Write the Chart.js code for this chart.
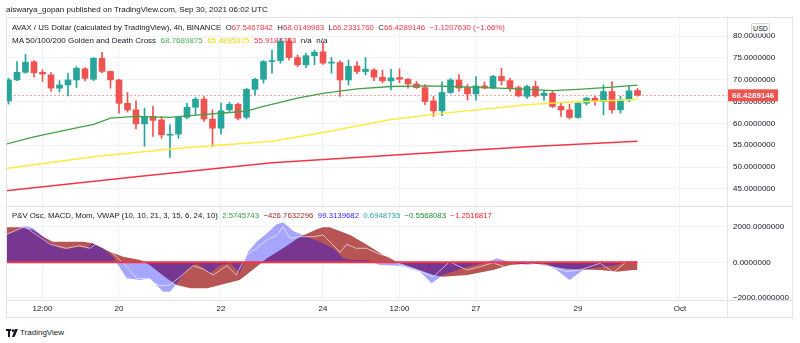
<!DOCTYPE html>
<html>
<head>
<meta charset="utf-8">
<script src="https://cdn.jsdelivr.net/npm/chart.js@4.4.0/dist/chart.umd.min.js"></script>
<style>
  body { margin:0; background:#fff; width:800px; height:343px; overflow:hidden; position:relative;
         font-family:"Liberation Sans", Arial, sans-serif; color:#131722; }
  .t { position:absolute; white-space:nowrap; font-size:8px; line-height:10px; }
  .ln { position:absolute; background:#e0e3eb; }
  canvas { position:absolute; }
  .red { color:#f23645; } .grn { color:#4caf50; } .yel { color:#f5d800; }
</style>
</head>
<body>
<canvas id="main" width="787" height="190" style="left:6px;top:17px"></canvas>
<canvas id="osc" width="787" height="111" style="left:6px;top:207px"></canvas>

<div class="ln" style="left:6px;top:17px;width:787px;height:1px"></div>
<div class="ln" style="left:6px;top:317px;width:787px;height:1px"></div>
<div class="ln" style="left:6px;top:17px;width:1px;height:301px"></div>
<div class="ln" style="left:792px;top:17px;width:1px;height:301px"></div>
<div class="ln" style="left:727px;top:17px;width:1px;height:301px"></div>
<div class="ln" style="left:6px;top:206px;width:787px;height:1px"></div>
<div class="ln" style="left:6px;top:300px;width:787px;height:1px"></div>

<div class="t" style="left:6px;top:5px;font-size:8px">aiswarya_gopan published on TradingView.com, Sep 30, 2021 06:02 UTC</div>
<div class="t" style="left:12px;top:23px;font-size:7.8px">AVAX / US Dollar (calculated by TradingView), 4h, BINANCE&nbsp; O<span class="red">67.5467842</span>&nbsp; H<span class="red">68.0149983</span>&nbsp; L<span class="red">66.2331760</span>&nbsp; C<span class="red">66.4289146</span>&nbsp; <span class="red">−1.1207630 (−1.66%)</span></div>
<div class="t" style="left:12px;top:36px">MA 50/100/200 Golden and Death Cross&nbsp; <span class="grn">68.7689875</span>&nbsp; <span class="yel">65.4895375</span>&nbsp; <span class="red">55.9187783</span>&nbsp; n/a&nbsp; n/a</div>
<div class="t" style="left:12px;top:211px;font-size:7.8px">P&amp;V Osc, MACD, Mom, VWAP (10, 10, 21, 3, 15, 6, 24, 10)&nbsp; <span style="color:#2e9b3a">2.5745743</span>&nbsp; <span style="color:#a52a2a">−426.7632296</span>&nbsp; <span style="color:#2b2bff">99.3139682</span>&nbsp; <span style="color:#26a69a">0.6948735</span>&nbsp; <span style="color:#1f8f2e">−0.5568083</span>&nbsp; <span style="color:#ff2020">−1.2516817</span></div>
<div class="t" style="left:751px;top:23px;width:17px;height:9px;border:1px solid #d1d4dc;border-radius:2px;background:#fff;font-size:7px;line-height:9px;text-align:center">USD</div>

<svg style="position:absolute;left:6px;top:329px" width="13" height="8" viewBox="0 0 13 8">
  <rect x="0" y="0" width="5" height="2" fill="#131722"/>
  <rect x="2" y="0" width="2" height="8" fill="#131722"/>
  <circle cx="7" cy="1.6" r="1.4" fill="#131722"/>
  <polygon points="9,0 12,0 8.5,8 6,8" fill="#131722"/>
</svg>
<div class="t" style="left:20px;top:328px;font-size:8px">TradingView</div>

<script>
// candles, 4h, index 0 = Sep 17 20:00
var opens  = [65.16,69.95,71.7,74.1,71.7,71.1,68.06,68.8,69.95,72.5,70.1,74.9,71.9,69.95,64.6,63.1,59.9,61.6,60.8,57.3,
              57.56,61.4,63.7,65.55,61.0,58.9,63.1,64.4,61.4,67.8,70.1,74.16,74.4,78.86,75.07,73.4,75.5,76.4,73.8,73.93,
              69.95,73.15,71.87,72.24,70.57,69.73,70.5,70.1,69.04,68.2,65.16,62.88,67.08,69.95,68.2,66.76,68.58,68.1,70.75,69.8,
              68.2,66.2,68.45,66.39,66.92,63.88,63.1,61.37,64.63,65.78,65.0,67.3,63.1,65.4,67.5467842];
var highs  = [70.34,74.16,75.82,74.38,72.24,71.64,69.8,71.5,73.0,72.8,75.07,76.28,72.0,70.1,67.08,65.16,63.5,63.9,61.6,59.7,
              61.6,64.6,65.94,66.16,63.1,64.63,64.86,64.63,68.06,70.34,74.38,76.8,79.47,79.47,75.66,76.05,76.8,78.6,75.07,74.3,
              74.5,74.16,75.07,72.55,72.17,72.4,72.5,70.34,69.6,68.9,66.16,69.5,70.27,71.2,68.9,70.7,69.5,71.0,72.6,70.3,
              68.6,68.8,69.7,67.5,67.3,64.63,64.4,64.86,66.0,66.2,68.8,69.6,66.2,68.67,68.0149983];
var lows   = [64.4,69.8,71.48,70.57,69.6,67.3,67.15,66.3,68.2,69.7,69.8,71.64,68.06,62.35,62.6,58.77,54.75,57.0,56.6,52.2,
              56.6,61.05,61.96,60.46,54.75,57.56,62.74,60.8,61.05,66.53,69.2,71.5,73.77,74.52,73.0,72.78,73.4,73.5,71.5,66.2,
              68.8,71.4,71.1,69.8,69.27,67.65,69.3,68.06,68.0,64.3,61.6,61.8,66.85,67.3,65.35,65.35,67.9,68.0,68.8,67.3,
              66.1,65.7,66.0,65.3,63.6,61.6,61.0,61.2,64.2,64.2,61.96,62.35,62.35,65.0,66.2331760];
var closes = [69.95,71.7,74.0,71.6,71.3,68.1,68.8,69.95,72.6,70.3,74.9,71.9,69.95,64.6,63.1,59.9,61.6,60.7,57.4,57.55,
              61.4,63.7,65.55,61.0,58.9,62.9,64.4,61.2,67.8,70.1,74.16,74.38,78.86,75.07,73.4,75.5,76.3,73.8,73.95,69.95,
              73.05,71.87,72.4,70.57,69.73,70.41,70.1,69.04,68.2,65.0,62.88,67.08,69.95,68.1,66.76,68.58,68.1,70.75,69.8,68.2,
              66.3,68.45,66.3,66.92,63.88,63.1,61.37,64.63,65.78,65.0,67.3,63.1,65.4,67.45,66.4289146];

// moving averages read at [candle index, value]
var ma50  = [[-0.3,55.25],[3,56.9],[7,58.6],[10,59.8],[12,61.2],[15,61.6],[19,61.4],[22,61.9],[26,62.5],[28,62.8],
             [30,63.9],[34,65.8],[37,66.9],[41,67.9],[45,68.45],[49,68.6],[52,68.45],[56,68.2],[60,67.9],[64,67.5],
             [67,67.8],[71,68.3],[74,68.77]];
var ma100 = [[-0.3,49.7],[10,52.4],[20,54.3],[31,55.95],[37,57.9],[45,60.9],[51,62.3],[61,64.3],[65,64.8],[74,65.49]];
var ma200 = [[-0.3,44.6],[15,47.8],[31,51.0],[61,54.66],[74,55.92]];

// lower pane
var macdArea = [[-0.3,1966],[1.4,1966],[2.9,1815],[4.1,1438],[5.2,1157],[6.9,1157],[8.8,1157],[9.9,1067],[11.9,596],
                [13.5,315],[15.5,129],[16.6,-152],[18.6,-899],[19.8,-1275],[21.4,-1461],[23.4,-1461],[25.7,-1180],
                [27.2,-994],[29.2,-247],[30.4,225],[32.3,787],[34.3,1438],[36.3,1854],[37,1966],[37.8,1966],[40.2,1534],
                [42.2,972],[44.1,410],[46.1,-56],[50,-713],[51.1,-809],[54,-713],[57,-433],[59,-152],[61.7,-60],
                [65.7,-376],[69.6,-433],[71.6,-528],[73.5,-433],[74,-433]];
var momArea  = [[-0.3,1534],[1.9,2056],[2.9,1910],[4.9,1067],[6.1,787],[6.9,747],[8.1,876],[9.2,787],[9.9,1067],
                [11.1,787],[12.3,315],[12.9,-152],[13.9,-899],[15.5,-994],[16.6,-899],[18.2,-1652],[19,-1652],
                [19.8,-1180],[21,-433],[22.2,-56],[23.7,-620],[24.9,-152],[26.1,-56],[27.2,-620],[28.2,596],[29.2,1157],
                [30.4,1629],[31.6,2152],[32.3,2247],[33.5,1759],[35.1,1438],[36.6,1157],[38.2,787],[39.4,225],[40.5,129],
                [42.2,129],[43.7,-152],[46.1,-190],[48.4,-528],[49.8,-1180],[51.1,-713],[54,-247],[55.8,-56],[57.5,225],
                [59,0],[61,-152],[62.9,-56],[64.5,-433],[66,-994],[67.6,-433],[69.6,-247],[71.1,-208],[73.1,94],[74,56]];
var thinLine = [[-0.2,1573],[1.9,2000],[4.9,1011],[6.8,787],[8.4,933],[9.6,787],[10.4,1067],[11.6,787],[12.7,315],
                [13.9,-247],[15.1,-899],[16.3,-938],[17.8,-1315],[19,-1275],[20.2,-809],[21.7,-190],[22.9,-376],
                [24.1,-713],[25.7,-190],[26.8,-713],[28,410],[29.2,787],[30.4,1253],[31.6,1534],[32.3,2000],[33.1,1348],
                [34.3,1438],[35.9,1438],[37,1534],[38.2,972],[39,562],[39.8,1011],[40.9,787],[42.1,787],[43.7,449],
                [44.9,315],[46.1,-152],[48,-433],[50,-809],[51.9,34],[53.9,-433],[55.5,-247],[57,-22],[58.6,-303],
                [61,-152],[63.3,-152],[65.7,-528],[67.2,-433],[69.6,-56],[71.2,-562],[72.7,34],[74,-22]];
var zeroLine = [[-0.3,0],[74,0]];

var priceTicks = [45,50,55,60,65,70,75,80];
var oscTicks = [-2000,0,2000];
var timeTickIdx = [4,13,25,37,46,55,67,79];
var timeTickLabels = ['12:00','20','22','24','12:00','27','29','Oct'];

var xMin = -0.294, xMax = 84.53;
var UP = '#26a69a', DOWN = '#ef5350';
var FONT = 'Liberation Sans';

var toXY = function(arr){ return arr.map(function(p){ return {x:p[0], y:p[1]}; }); };
var colors = closes.map(function(c,i){ return c >= opens[i] ? UP : DOWN; });
var bodies = closes.map(function(c,i){ return {x:i, y:[opens[i], c]}; });
var wicks  = closes.map(function(c,i){ return {x:i, y:[lows[i], highs[i]]}; });

var fixX = function(s){ s.ticks = timeTickIdx.map(function(v){ return {value:v}; }); };

//-------------------------------------------------------------
// last price line + label
//-------------------------------------------------------------
var lastPrice = {
  id:'lastPrice',
  beforeDatasetsDraw: function(chart){
    var c = chart.ctx, a = chart.chartArea;
    var y = Math.round(chart.scales.y.getPixelForValue(closes[closes.length-1])) + 0.5;
    c.save();
    c.strokeStyle = 'rgba(239,83,80,0.55)';
    c.setLineDash([2,2]);
    c.lineWidth = 1;
    c.beginPath(); c.moveTo(a.left, y); c.lineTo(a.right, y); c.stroke();
    c.restore();
  },
  afterDraw: function(chart){
    var c = chart.ctx, a = chart.chartArea;
    var last = closes[closes.length-1];
    var y = chart.scales.y.getPixelForValue(last);
    c.save();
    c.fillStyle = DOWN;
    c.fillRect(a.right, y-6, 51, 12);
    c.fillStyle = '#fff';
    c.font = 'bold 8px "' + FONT + '"';
    c.textBaseline = 'middle';
    c.fillText(last.toFixed(7), a.right + 5, y + 0.5);
    c.restore();
  }
};

new Chart(document.getElementById('main').getContext('2d'), {
  type: 'bar',
  data: {
    datasets: [
      { type:'line', data: toXY(ma50),  borderColor:'#43a047', borderWidth:1.3, pointRadius:0, order:1 },
      { type:'line', data: toXY(ma100), borderColor:'#ffeb3b', borderWidth:1.5, pointRadius:0, order:1 },
      { type:'line', data: toXY(ma200), borderColor:'#f23645', borderWidth:1.3, pointRadius:0, order:1 },
      { data: bodies, backgroundColor: colors, barThickness:6, grouped:false, minBarLength:1, order:2 },
      { data: wicks,  backgroundColor: colors, barThickness:1, grouped:false, order:3 }
    ]
  },
  options: {
    responsive:false, animation:false, events:[],
    layout:{ padding:0 },
    plugins:{ legend:{display:false}, tooltip:{enabled:false} },
    scales:{
      x:{ type:'linear', min:xMin, max:xMax, offset:false, afterBuildTicks: fixX,
          ticks:{display:false}, grid:{color:'#f0f3fa', drawTicks:false, offset:false}, border:{display:false},
          afterFit: function(s){ s.height = 0; s.paddingLeft = 0; s.paddingRight = 0; } },
      y:{ position:'right', min:40.88, max:84.35,
          afterBuildTicks: function(s){ s.ticks = priceTicks.map(function(v){ return {value:v}; }); },
          ticks:{ callback:function(v){ return v.toFixed(7); }, color:'#131722', padding:6, font:{size:8, family:FONT} },
          grid:{color:'#f0f3fa', drawTicks:false}, border:{display:false},
          afterFit: function(s){ s.width = 66; s.paddingTop = 0; s.paddingBottom = 0; } }
    }
  },
  plugins:[lastPrice]
});

//-------------------------------------------------------------
// oscillator pane
//-------------------------------------------------------------
new Chart(document.getElementById('osc').getContext('2d'), {
  type: 'line',
  data: {
    datasets: [
      { data: toXY(zeroLine), borderColor:'#f23645', borderWidth:2, pointRadius:0, order:0 },
      { data: toXY(thinLine), borderColor:'rgba(255,255,255,0.6)', borderWidth:1, pointRadius:0, order:1 },
      { data: toXY(momArea),  borderWidth:0, pointRadius:0, fill:'origin', backgroundColor:'rgba(0,0,255,0.35)', order:2 },
      { data: toXY(macdArea), borderWidth:0, pointRadius:0, fill:'origin', backgroundColor:'rgba(165,42,42,0.8)', order:3 }
    ]
  },
  options: {
    responsive:false, animation:false, events:[],
    layout:{ padding:0 },
    plugins:{ legend:{display:false}, tooltip:{enabled:false} },
    scales:{
      x:{ type:'linear', min:xMin, max:xMax, offset:false, afterBuildTicks: fixX,
          ticks:{ callback:function(v,i){ return timeTickLabels[i]; }, color:'#131722', padding:4,
                  maxRotation:0, autoSkip:false, font:{size:8, family:FONT} },
          grid:{color:'#f0f3fa', drawTicks:false}, border:{display:false},
          afterFit: function(s){ s.height = 18; s.paddingLeft = 0; s.paddingRight = 0; } },
      y:{ position:'right', min:-2118, max:3107,
          afterBuildTicks: function(s){ s.ticks = oscTicks.map(function(v){ return {value:v}; }); },
          ticks:{ callback:function(v){ return v.toFixed(7).replace('-', '−'); }, color:'#131722', padding:6,
                  font:{size:8, family:FONT} },
          grid:{color:'#f0f3fa', drawTicks:false}, border:{display:false},
          afterFit: function(s){ s.width = 66; s.paddingTop = 0; s.paddingBottom = 0; } }
    }
  }
});
</script>
</body>
</html>
